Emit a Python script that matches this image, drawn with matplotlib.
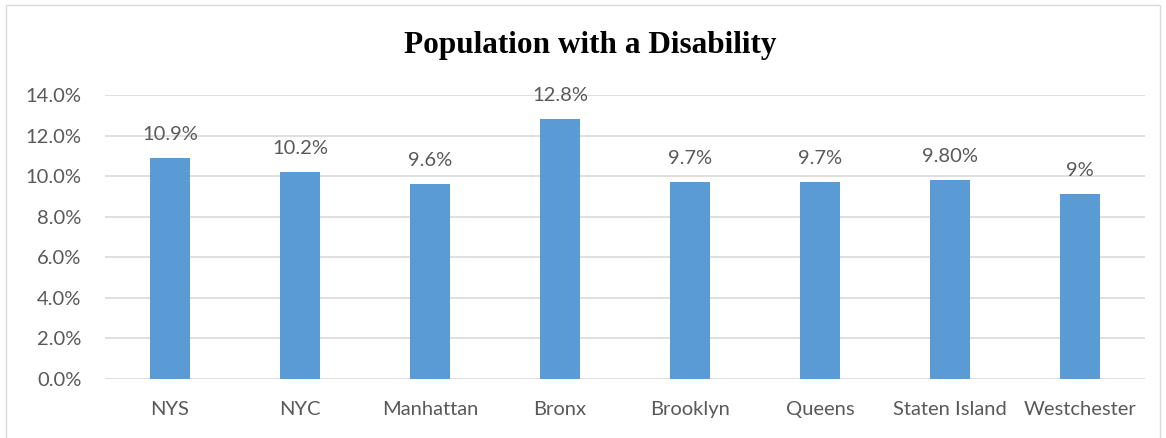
import numpy as np
import matplotlib.pyplot as plt
from matplotlib.patches import Rectangle

categories = ['NYS', 'NYC', 'Manhattan', 'Bronx', 'Brooklyn', 'Queens',
              'Staten Island', 'Westchester']
values = [10.9, 10.2, 9.6, 12.8, 9.7, 9.7, 9.8, 9.1]
value_labels = ['10.9%', '10.2%', '9.6%', '12.8%', '9.7%', '9.7%', '9.80%', '9%']
yticks = np.arange(0, 15, 2)

plt.rcParams['font.family'] = ['Lato', 'DejaVu Sans']
text_color = '#595959'
bar_color = '#5B9BD5'

fig = plt.figure(figsize=(11.66, 4.38), dpi=100)
ax = fig.add_axes([105 / 1166, 1 - 379 / 438, 1040 / 1166, 284 / 438])

x = np.arange(len(categories))
ax.bar(x, values, width=0.31, color=bar_color, zorder=3)
for xi, v, lab in zip(x, values, value_labels):
    ax.text(xi, v + 0.75, lab, ha='center', va='bottom', fontsize=14.5,
            color=text_color)

ax.set_xlim(-0.5, len(categories) - 0.5)
ax.set_ylim(0, 14)
ax.set_yticks(yticks)
ax.set_yticklabels([f'{t:.1f}%' for t in yticks])
ax.set_xticks(x)
ax.set_xticklabels(categories)
ax.tick_params(axis='both', length=0, labelsize=14.5, colors=text_color)
ax.tick_params(axis='x', pad=16)
ax.tick_params(axis='y', pad=17)
ax.grid(axis='y', color='#D9D9D9', linewidth=1.2, zorder=0)
for s in ax.spines.values():
    s.set_visible(False)

fig.text(590 / 1166, 1 - 45 / 438, 'Population with a Disability',
         ha='center', va='center', fontsize=22.5, fontweight='bold',
         family=['Liberation Serif', 'DejaVu Serif'], color='black')

fig.patches.append(Rectangle((6 / 1166, -0.01), 1154 / 1166, 1 - 5 / 438 + 0.01,
                             transform=fig.transFigure, fill=False,
                             edgecolor='#D9D9D9', linewidth=1))

fig.savefig('out.png', dpi=100)
